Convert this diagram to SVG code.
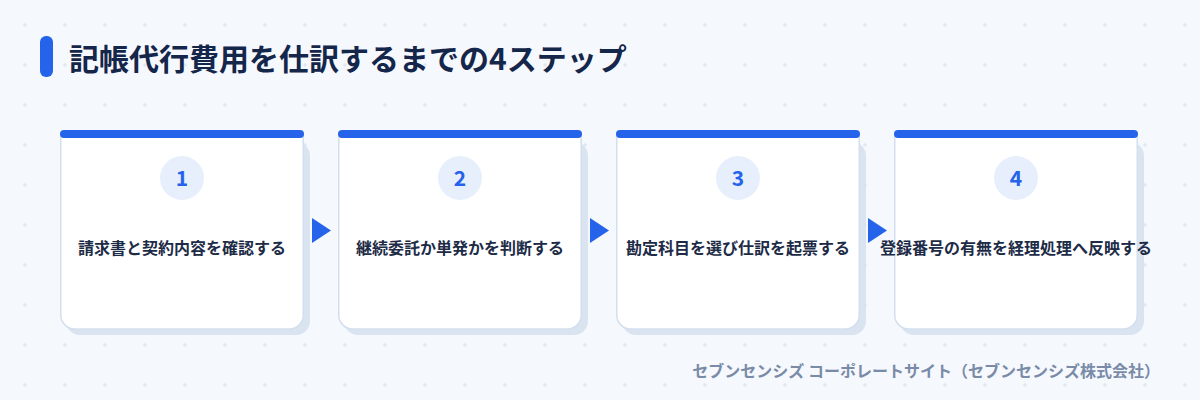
<svg xmlns="http://www.w3.org/2000/svg" width="1200" height="400" viewBox="0 0 1200 400">
<defs>
<pattern id="dots" x="0" y="0" width="40" height="40" patternUnits="userSpaceOnUse">
<path d="M23 25h4M25 23v4" stroke="#dbe3ee" stroke-width="1"/>
</pattern>
<style>
.title{font-family:"Noto Sans CJK JP","Noto Sans",sans-serif;font-weight:700;font-size:30px;fill:#14264a}
.shadow{fill:#dae4f1}
.body{fill:#ffffff;stroke:#d3dfee;stroke-width:1.5}
.bar{fill:#2563eb}
.badge{fill:#e7effc}
.num{font-family:"Noto Sans CJK JP","Noto Sans",sans-serif;font-weight:700;font-size:21px;fill:#2563eb;text-anchor:middle}
.label{font-family:"Noto Sans CJK JP","Noto Sans",sans-serif;font-weight:700;font-size:16px;fill:#1d2b47;text-anchor:middle}
.arrow{fill:#2563eb}
.foot{font-family:"Noto Sans CJK JP","Noto Sans",sans-serif;font-weight:700;font-size:16px;fill:#7a8ba8;text-anchor:end}
</style>
</defs>
<rect width="1200" height="400" fill="#f5f8fd"/>
<rect width="1200" height="400" fill="url(#dots)"/>
<g id="header">
<rect x="40" y="36" width="13" height="41" rx="6" fill="#2563eb"/>
<text class="title" x="69" y="70">記帳代行費用を仕訳するまでの4ステップ</text>
</g>
<g id="step1">
<rect class="shadow" x="66" y="142" width="244" height="193" rx="14"/>
<path class="body" d="M60.75 134 H303.25 V315 A14 14 0 0 1 289.25 329 H74.750 A14 14 0 0 1 60.75 315 Z"/>
<rect class="bar" x="60" y="130" width="244" height="8" rx="4"/>
<circle class="badge" cx="182" cy="178" r="22"/>
<text class="num" x="182" y="186">1</text>
<text class="label" x="182" y="254">請求書と契約内容を確認する</text>
</g>
<g id="step2">
<rect class="shadow" x="344" y="142" width="244" height="193" rx="14"/>
<path class="body" d="M338.75 134 H581.25 V315 A14 14 0 0 1 567.25 329 H352.75 A14 14 0 0 1 338.75 315 Z"/>
<rect class="bar" x="338" y="130" width="244" height="8" rx="4"/>
<circle class="badge" cx="460" cy="178" r="22"/>
<text class="num" x="460" y="186">2</text>
<text class="label" x="460" y="254">継続委託か単発かを判断する</text>
</g>
<g id="step3">
<rect class="shadow" x="622" y="142" width="244" height="193" rx="14"/>
<path class="body" d="M616.75 134 H859.25 V315 A14 14 0 0 1 845.25 329 H630.75 A14 14 0 0 1 616.75 315 Z"/>
<rect class="bar" x="616" y="130" width="244" height="8" rx="4"/>
<circle class="badge" cx="738" cy="178" r="22"/>
<text class="num" x="738" y="186">3</text>
<text class="label" x="738" y="254">勘定科目を選び仕訳を起票する</text>
</g>
<g id="step4">
<rect class="shadow" x="900" y="142" width="244" height="193" rx="14"/>
<path class="body" d="M894.75 134 H1137.25 V315 A14 14 0 0 1 1123.25 329 H908.75 A14 14 0 0 1 894.75 315 Z"/>
<rect class="bar" x="894" y="130" width="244" height="8" rx="4"/>
<circle class="badge" cx="1016" cy="178" r="22"/>
<text class="num" x="1016" y="186">4</text>
<text class="label" x="1016" y="254">登録番号の有無を経理処理へ反映する</text>
</g>
<g id="connectors">
<polygon class="arrow" points="312,218 331,230.5 312,243"/>
<polygon class="arrow" points="590,218 609,230.5 590,243"/>
<polygon class="arrow" points="868,218 887,230.5 868,243"/>
</g>
<g id="footer">
<text class="foot" x="1160" y="377">セブンセンシズ コーポレートサイト（セブンセンシズ株式会社）</text>
</g>
</svg>
